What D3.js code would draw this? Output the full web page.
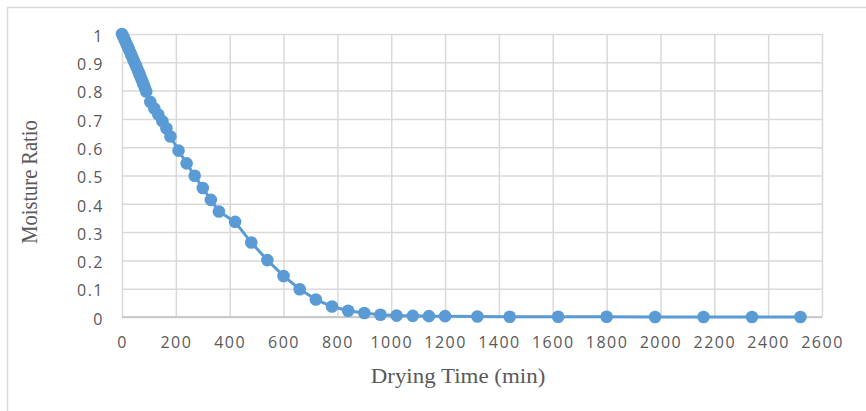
<!DOCTYPE html>
<html>
<head>
<meta charset="utf-8">
<script src="https://cdn.jsdelivr.net/npm/d3@7"></script>
<style>
  body { margin: 0; background: #fff; }
  svg { display: block; }
  .tick text { font-family: "Open Sans", sans-serif; font-size: 16px; fill: #595959; letter-spacing: 1.5px; }
  .title { font-family: "Liberation Serif", "Times New Roman", serif; font-size: 20.5px; fill: #595959; }
</style>
</head>
<body>
<svg id="chart"></svg>
<script>
// Drying time (min)
const times = [0, 5, 10, 15, 20, 25, 30, 35, 40, 45, 50, 55, 60, 65, 70, 75, 80, 85, 90,
  105, 120, 135, 150, 165, 180, 210, 240, 270, 300, 330, 360, 420, 480, 540, 600, 660, 720,
  780, 840, 900, 960, 1020, 1080, 1140, 1200, 1320, 1440, 1620, 1800, 1980, 2160, 2340, 2520];
// Moisture ratio
const moisture = [1.000, 0.990, 0.979, 0.968, 0.958, 0.947, 0.936, 0.925, 0.914, 0.903, 0.892, 0.881, 0.869, 0.858, 0.846, 0.834, 0.822, 0.810, 0.797,
  0.760, 0.737, 0.715, 0.692, 0.667, 0.638, 0.588, 0.543, 0.499, 0.456, 0.414, 0.373, 0.336, 0.263, 0.201, 0.145, 0.098, 0.062,
  0.037, 0.022, 0.014, 0.008, 0.005, 0.004, 0.003, 0.003, 0.002, 0.001, 0.001, 0.001, 0.000, 0.000, 0.000, 0.000];
const xTicks = [0, 200, 400, 600, 800, 1000, 1200, 1400, 1600, 1800, 2000, 2200, 2400, 2600];
const yTicks = [0, 0.1, 0.2, 0.3, 0.4, 0.5, 0.6, 0.7, 0.8, 0.9, 1];

const W = 866, H = 411;
const margin = { top: 34, right: 44, bottom: 94, left: 122 };
const width = W - margin.left - margin.right;
const height = H - margin.top - margin.bottom;

const svg = d3.select('#chart').attr('width', W).attr('height', H);

// outer chart frame (right and bottom run off the picture)
svg.append('rect')
  .attr('x', 7.5).attr('y', 7.5)
  .attr('width', 900).attr('height', 500)
  .attr('fill', 'none').attr('stroke', '#d9d9d9').attr('stroke-width', 1.5);

const g = svg.append('g').attr('transform', `translate(${margin.left},${margin.top})`);

const x = d3.scaleLinear().domain([0, 2600]).range([0, width]);
const y = d3.scaleLinear().domain([0, 1]).range([height, 0]);

// Y axis with gridlines
const yAxis = g.append('g')
  .call(d3.axisLeft(y).tickValues(yTicks).tickSize(-width).tickPadding(18).tickFormat(d3.format('')));
yAxis.select('.domain').remove();
yAxis.selectAll('.tick line').attr('stroke', '#d9d9d9').attr('stroke-width', 1.5);
yAxis.selectAll('.tick text').attr('dy', '0.45em');

// X axis with gridlines
const xAxis = g.append('g')
  .attr('transform', `translate(0,${height})`)
  .call(d3.axisBottom(x).tickValues(xTicks).tickSize(-height).tickPadding(20).tickFormat(d3.format('')));
xAxis.select('.domain').remove();
xAxis.selectAll('.tick line').attr('stroke', '#d9d9d9').attr('stroke-width', 1.5);

// baseline axis
g.append('line')
  .attr('x1', 0).attr('x2', width)
  .attr('y1', y(0)).attr('y2', y(0))
  .attr('stroke', '#bfbfbf').attr('stroke-width', 1.5);

const data = times.map((t, i) => ({ t, mr: moisture[i] }));

const line = d3.line().x(d => x(d.t)).y(d => y(d.mr));
g.append('path')
  .datum(data)
  .attr('fill', 'none')
  .attr('stroke', '#5b9bd5')
  .attr('stroke-width', 3)
  .attr('d', line);

g.selectAll('.pt').data(data).enter()
  .append('circle')
  .attr('class', 'pt')
  .attr('cx', d => x(d.t))
  .attr('cy', d => y(d.mr))
  .attr('r', 6.3)
  .attr('fill', '#5b9bd5');

// axis titles (the source picture is a little stretched sideways)
svg.append('text')
  .attr('class', 'title')
  .attr('transform', 'translate(458,383) scale(1.12,1)')
  .attr('text-anchor', 'middle')
  .text('Drying Time (min)');

svg.append('text')
  .attr('class', 'title')
  .attr('transform', 'translate(37,182) scale(1.12,1) rotate(-90)')
  .attr('text-anchor', 'middle')
  .text('Moisture Ratio');
</script>
</body>
</html>
